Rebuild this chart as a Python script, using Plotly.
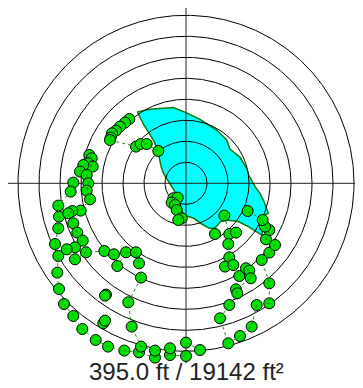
import numpy as np
import plotly.graph_objects as go

# Range rings (ft from center)
ring_radii = [21, 42, 63, 84, 105, 126, 147, 168]
cross_len = 180

# Covered area polygon (ft east / ft north of center)
area_x = [-48.7, -36.0, -12.7, 0.0, 14.0, 30.7, 40.7, 44.0, 54.0, 60.7, 62.7, 69.0, 74.0, 78.0,
          82.3, 77.3, 76.0, 62.3, 52.3, 40.7, 34.7, 29.0, 23.3, 15.7, 8.0, 0.7, -3.3, -7.7,
          -12.7, -17.7, -22.0, -24.7, -26.7, -28.7, -32.7, -37.3, -42.7, -48.7]
area_y = [71.3, 74.0, 75.7, 70.7, 64.0, 53.3, 43.3, 34.3, 26.0, 15.0, 8.3, -3.3, -10.0, -18.3,
          -30.0, -32.7, -52.0, -43.3, -38.3, -36.7, -38.3, -44.7, -45.0, -40.7, -35.0, -32.7, -30.0, -15.0,
          -5.7, 2.3, 9.0, 16.0, 26.7, 35.0, 43.3, 50.7, 59.3, 71.3]

# Shot track (None = break in the track)
track_x = [-56.7, -61.0, -66.0, -70.0, -74.0, -75.3, -76.0, -50.0, -45.3, -39.3, -27.7, None,
           -96.7, -94.3, -97.7, -93.3, -102.7, -106.0, -112.7, -115.3, -127.7, -127.0, -127.7, -131.0,
           -127.7, -128.7, -127.0, -122.0, -112.7, -103.7, -90.3, -78.0, -61.7, -47.0, -31.0, -16.0,
           0.0, 0.0, 14.0, None,
           -99.3, -97.7, -99.3, -96.0, -105.3, -113.7, -117.7, -112.7, -108.7, -103.3, -111.0, -119.3,
           -111.0, -100.0, -81.7, -72.0, -68.7, -60.0, -50.0, -47.0, -45.0, -57.7, -54.3, -45.0,
           -31.0, -16.0, None,
           -80.0, None, -81.0, None, -82.7, None, -81.0, None,
           -12.7, -8.3, -14.3, -11.0, -9.3, -4.3, -7.7, None,
           38.3, 43.3, 50.0, 42.3, 43.3, 39.0, 47.3, 53.3, 60.0, 63.3, 64.7, 50.0, 51.3, 43.3, 34.0,
           42.3, 54.0, 65.7, 70.7, 83.3, 83.3, 75.7, 83.3, 89.0, 80.0, 83.3, 79.0, 76.7, 61.7, None,
           29.0]
track_y = [64.3, 60.7, 56.7, 52.7, 50.0, 45.7, 43.3, 36.7, 39.3, 39.3, 32.3, None,
           28.3, 25.0, 20.0, 16.7, 18.3, 11.7, 0.7, -8.3, -22.3, -33.3, -45.0, -60.7,
           -72.7, -89.3, -105.7, -120.7, -132.7, -145.7, -156.7, -163.3, -167.3, -169.0, -174.3, -171.7,
           -172.7, -159.3, -166.7, None,
           8.3, 0.0, -7.3, -16.0, -27.3, -27.7, -30.0, -40.0, -49.3, -57.3, -64.0, -66.0,
           -76.0, -69.0, -67.7, -71.0, -82.7, -69.0, -69.0, -80.0, -94.3, -119.0, -143.3, -163.3,
           -167.3, -165.0, None,
           -111.3, None, -112.3, None, -140.0, None, -137.3, None,
           -15.0, -14.3, -19.3, -21.7, -26.7, -35.0, -36.7, None,
           -32.3, -50.7, -49.3, -60.7, -74.0, -83.3, -81.7, -92.7, -85.0, -87.3, -95.0, -106.0, -110.0, -121.7, -135.0,
           -160.0, -152.7, -143.3, -121.7, -120.0, -100.0, -76.7, -69.3, -61.7, -56.0, -46.7, -43.3, -36.7, -27.7, None,
           -50.7]

label_text = "395.0 ft / 19142 ft²"

fig = go.Figure()

# area polygon (bottom layer)
fig.add_trace(go.Scatter(x=area_x, y=area_y, mode="lines", fill="toself",
                         fillcolor="#00FFFF", line=dict(color="#0A7A0A", width=1.5),
                         hoverinfo="skip", showlegend=False))

# range rings
theta = np.linspace(0, 2 * np.pi, 721)
for r in ring_radii:
    fig.add_trace(go.Scatter(x=r * np.cos(theta), y=r * np.sin(theta), mode="lines",
                             line=dict(color="#000000", width=1), hoverinfo="skip", showlegend=False))

# crosshair
fig.add_trace(go.Scatter(x=[-cross_len, cross_len, None, 0, 0], y=[0, 0, None, -cross_len, cross_len],
                         mode="lines", line=dict(color="#222222", width=1),
                         hoverinfo="skip", showlegend=False))

# shot markers
fig.add_trace(go.Scatter(x=track_x, y=track_y, mode="markers",
                         marker=dict(size=11, color="#00E000", line=dict(color="#000000", width=1)),
                         showlegend=False))

# dotted track drawn over markers
fig.add_trace(go.Scatter(x=track_x, y=track_y, mode="lines", connectgaps=False,
                         line=dict(color="#1E8C1E", width=1, dash="dot"),
                         hoverinfo="skip", showlegend=False))

fig.add_annotation(text=label_text, x=0, xref="x", y=0.0429, yref="paper",
                   xanchor="center", yanchor="middle", showarrow=False,
                   font=dict(family="Liberation Sans, Arial, sans-serif", size=24, color="#222222"))

# the page body keeps an 8 px margin, so the figure is 355x380 and the ranges are set so
# that the centre lands at (186, 183) of the window
fig.update_xaxes(range=[-178, 177], visible=False, showgrid=False, zeroline=False)
fig.update_yaxes(range=[-204.7, 175.3], visible=False, showgrid=False, zeroline=False)
fig.update_layout(width=355, height=380, margin=dict(l=0, r=0, t=0, b=0),
                  plot_bgcolor="white", paper_bgcolor="white")

fig.write_html("out.html")
